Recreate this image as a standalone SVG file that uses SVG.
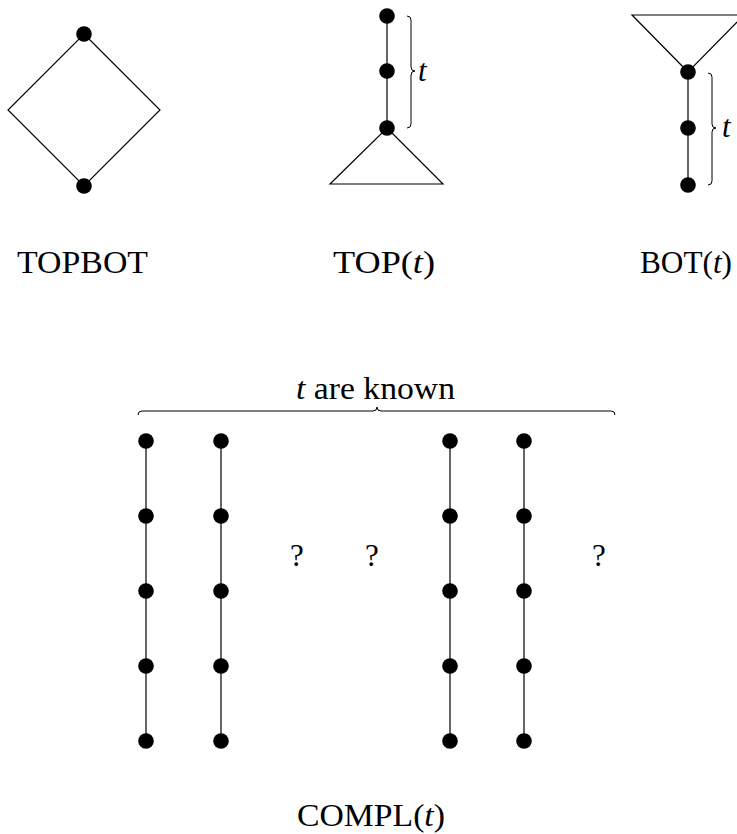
<svg xmlns="http://www.w3.org/2000/svg" width="737" height="834" viewBox="0 0 737 834">
<style>
.e{stroke:#000;stroke-width:1.2;fill:none}
.br{stroke:#000;stroke-width:1;fill:none}
.n{fill:#000}
.lb{font-family:"Liberation Serif","Times New Roman",serif;font-size:31px;fill:#000}
.it{font-style:italic}
</style>
<rect width="737" height="834" fill="#fff"/>
<defs><circle id="dot" r="7.8"/></defs>
<g id="connectors">
<path class="e" d="M84,34 L160,110 L84,186 L8,110 Z"/>
<path class="e" d="M387,16 L387,128 M387,128 L443,184 L330,184 Z"/>
<path class="e" d="M688,72 L688,186 M688,72 L632,15 L744,15 Z"/>
<path class="e" d="M146,441 L146,741 M221,441 L221,741 M450,441 L450,741 M524,441 L524,741"/>
</g>
<g id="braces">
<path class="br" d="M407,16 Q411,16 411,20 L411,67 Q411,71 415,71 Q411,71 411,75 L411,124 Q411,128 407,128"/>
<path class="br" d="M708,73 Q712,73 712,77 L712,124 Q712,128 716,128 Q712,128 712,132 L712,181 Q712,185 708,185"/>
<path class="br" d="M138,415 Q138,411 142,411 L373,411 Q377,411 377,407 Q377,411 381,411 L611,411 Q615,411 615,415"/>
</g>
<g id="topbot">
<use href="#dot" class="n" x="84" y="34"/>
<use href="#dot" class="n" x="84" y="186"/>
<text class="lb" x="17" y="273" textLength="131" lengthAdjust="spacingAndGlyphs">TOPBOT</text>
</g>
<g id="top-t">
<use href="#dot" class="n" x="387" y="16"/>
<use href="#dot" class="n" x="387" y="71"/>
<use href="#dot" class="n" x="387" y="128"/>
<text class="lb it" x="418" y="81">t</text>
<text class="lb" x="333" y="273" textLength="102" lengthAdjust="spacingAndGlyphs">TOP(<tspan class="it">t</tspan>)</text>
</g>
<g id="bot-t">
<use href="#dot" class="n" x="688" y="72"/>
<use href="#dot" class="n" x="688" y="128"/>
<use href="#dot" class="n" x="688" y="185"/>
<text class="lb it" x="722" y="137">t</text>
<text class="lb" x="640" y="273" textLength="92" lengthAdjust="spacingAndGlyphs">BOT(<tspan class="it">t</tspan>)</text>
</g>
<g id="compl">
<text class="lb" x="296" y="399" textLength="159" lengthAdjust="spacingAndGlyphs"><tspan class="it">t</tspan> are known</text>
<g id="col1"><use href="#dot" class="n" x="146" y="441"/><use href="#dot" class="n" x="146" y="516"/><use href="#dot" class="n" x="146" y="591"/><use href="#dot" class="n" x="146" y="666"/><use href="#dot" class="n" x="146" y="741"/></g>
<g id="col2"><use href="#dot" class="n" x="221" y="441"/><use href="#dot" class="n" x="221" y="516"/><use href="#dot" class="n" x="221" y="591"/><use href="#dot" class="n" x="221" y="666"/><use href="#dot" class="n" x="221" y="741"/></g>
<g id="col3"><use href="#dot" class="n" x="450" y="441"/><use href="#dot" class="n" x="450" y="516"/><use href="#dot" class="n" x="450" y="591"/><use href="#dot" class="n" x="450" y="666"/><use href="#dot" class="n" x="450" y="741"/></g>
<g id="col4"><use href="#dot" class="n" x="524" y="441"/><use href="#dot" class="n" x="524" y="516"/><use href="#dot" class="n" x="524" y="591"/><use href="#dot" class="n" x="524" y="666"/><use href="#dot" class="n" x="524" y="741"/></g>
<text class="lb" x="297" y="566" text-anchor="middle">?</text>
<text class="lb" x="372" y="566" text-anchor="middle">?</text>
<text class="lb" x="599" y="566" text-anchor="middle">?</text>
<text class="lb" x="297" y="826" textLength="148" lengthAdjust="spacingAndGlyphs">COMPL(<tspan class="it">t</tspan>)</text>
</g>
</svg>
